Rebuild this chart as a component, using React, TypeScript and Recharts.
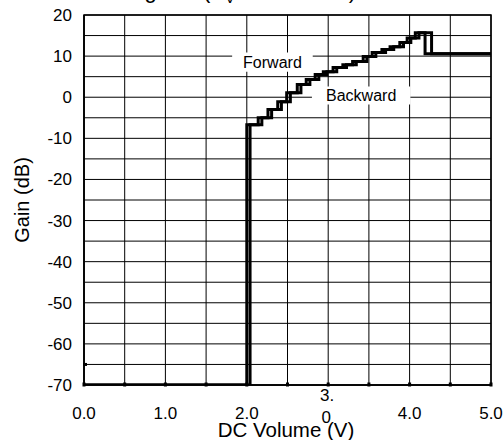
import React from 'react';
import { LineChart, Line, XAxis, YAxis, CartesianGrid, ReferenceArea } from 'recharts';

const xTicks = [0, 0.5, 1, 1.5, 2, 2.5, 3, 3.5, 4, 4.5, 5];
const yTicks = [-70, -65, -60, -55, -50, -45, -40, -35, -30, -25, -20, -15, -10, -5, 0, 5, 10, 15, 20];
const xLabels: Record<string, string> = { '0': '0.0', '1': '1.0', '2': '2.0', '3': '3.0', '4': '4.0', '5': '5.0' };

// Backward (lower thresholds) and Forward (higher thresholds) step curves
const backwardVolts = [0, 2.0, 2.14, 2.26, 2.38, 2.49, 2.62, 2.73, 2.84, 2.94, 3.06, 3.18, 3.3, 3.43, 3.54, 3.66, 3.76, 3.88, 3.97, 4.07, 4.19, 5.0];
const backwardGain = [-70, -6.7, -5.0, -3.0, -1.1, 1.1, 3.1, 4.3, 5.5, 6.2, 7.2, 7.9, 8.7, 9.9, 10.9, 11.6, 12.3, 13.3, 14.4, 15.7, 10.6, 10.6];
const forwardVolts = [0, 2.04, 2.185, 2.305, 2.425, 2.535, 2.665, 2.775, 2.885, 2.985, 3.105, 3.225, 3.345, 3.475, 3.585, 3.705, 3.805, 3.925, 4.015, 4.115, 4.27, 5.0];
const forwardGain = [-70, -6.7, -5.0, -3.0, -1.1, 1.1, 3.1, 4.3, 5.5, 6.2, 7.2, 7.9, 8.7, 9.9, 10.9, 11.6, 12.3, 13.3, 14.4, 15.7, 10.6, 10.6];

const backward = backwardVolts.map((v, i) => ({ v, g: backwardGain[i] }));
const forward = forwardVolts.map((v, i) => ({ v, g: forwardGain[i] }));

const FONT = '"Liberation Sans", Arial, Helvetica, sans-serif';

function XTick(props: any) {
  const { x, y, payload } = props;
  const v = payload.value;
  const lab = xLabels[String(v)];
  const dot = <rect x={x - 1.5} y={y - 2.5} width={3} height={4} fill="#000" />;
  if (v === 3) {
    return (
      <g>
        {dot}
        <text x={x - 1} y={y + 16} textAnchor="middle" fontSize={17} fontFamily={FONT} fill="#000">3.</text>
        <text x={x - 2} y={y + 38} textAnchor="middle" fontSize={17} fontFamily={FONT} fill="#000">0</text>
      </g>
    );
  }
  return (
    <g>
      {dot}
      {lab ? (
        <text x={x} y={y + 34} textAnchor="middle" fontSize={17} fontFamily={FONT} fill="#000">{lab}</text>
      ) : null}
    </g>
  );
}

function YTick(props: any) {
  const { x, y, payload } = props;
  const v = payload.value;
  return (
    <g>
      {v === -65 ? <rect x={x - 1} y={y - 1.5} width={4} height={3} fill="#000" /> : null}
      {v % 10 === 0 ? (
        <text x={x - 12} y={y + 6} textAnchor="end" fontSize={17} fontFamily={FONT} fill="#000">{v}</text>
      ) : null}
    </g>
  );
}

export default function App() {
  return (
    <div style={{ position: 'absolute', left: 0, top: 0, width: 504, height: 440, background: '#fff' }}>
      <LineChart width={504} height={440} margin={{ top: 15, right: 13, bottom: 0, left: 0 }}>
        <CartesianGrid stroke="#000" strokeWidth={1} />
        <XAxis
          dataKey="v"
          type="number"
          domain={[0, 5]}
          ticks={xTicks}
          height={55}
          tickSize={0}
          tickMargin={0}
          tick={<XTick />}
          axisLine={{ stroke: '#000', strokeWidth: 1.5 }}
          allowDataOverflow
        />
        <YAxis
          type="number"
          domain={[-70, 20]}
          ticks={yTicks}
          width={84}
          tickSize={0}
          tickMargin={0}
          tick={<YTick />}
          axisLine={{ stroke: '#000', strokeWidth: 1.5 }}
          allowDataOverflow
          interval={0}
        />
        <ReferenceArea x1={1.82} x2={2.81} y1={6.2} y2={10.9} fill="#fff" fillOpacity={1} stroke="none"
          label={{ value: 'Forward', position: 'center', fill: '#000', fontSize: 16, fontFamily: FONT }} />
        <ReferenceArea x1={2.8} x2={4.01} y1={-1.8} y2={2.6} fill="#fff" fillOpacity={1} stroke="none"
          label={{ value: 'Backward', position: 'center', fill: '#000', fontSize: 16, fontFamily: FONT }} />
        <Line data={backward} dataKey="g" name="Backward" type="stepAfter" dot={false} stroke="#000" strokeWidth={3} isAnimationActive={false} />
        <Line data={forward} dataKey="g" name="Forward" type="stepAfter" dot={false} stroke="#000" strokeWidth={3} isAnimationActive={false} />
        <ReferenceArea x1={0} x2={5} y1={-70} y2={20} fill="none" stroke="#000" strokeWidth={1.5} />
      </LineChart>
      <svg width={504} height={440} style={{ position: 'absolute', left: 0, top: 0, pointerEvents: 'none' }}>
        <text y={-2} fontSize={22} fontFamily={FONT} fill="#000">
          <tspan x={92}>Total gain</tspan>
          <tspan x={203}>(A</tspan>
          <tspan dy={5} fontSize={15}>V</tspan>
          <tspan dy={-5}> vs. Volume)</tspan>
        </text>
        <text transform="translate(29,200) rotate(-90)" textAnchor="middle" fontSize={20} fontFamily={FONT} fill="#000">Gain (dB)</text>
        <text x={286} y={437} textAnchor="middle" fontSize={20.5} fontFamily={FONT} fill="#000">DC Volume (V)</text>
      </svg>
    </div>
  );
}
